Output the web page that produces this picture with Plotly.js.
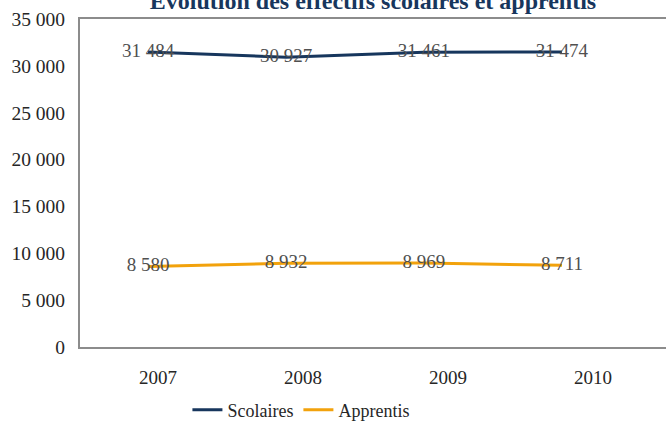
<!DOCTYPE html>
<html>
<head>
<meta charset="utf-8">
<script src="https://cdn.plot.ly/plotly-3.0.1.min.js"></script>
<style>html,body{margin:0;padding:0;background:#fff;}#chart{width:666px;height:422px;}</style>
</head>
<body>
<div id="chart"></div>
<script>
const years = ["2007", "2008", "2009", "2010"];
const scolaires = [31484, 30927, 31461, 31474];
const apprentis = [8580, 8932, 8969, 8711];
const yTicks = [0, 5000, 10000, 15000, 20000, 25000, 30000, 35000];

const idx = years.map((_, i) => i);
const serif = "Liberation Serif";

const traces = [
  {
    x: idx, y: scolaires, name: "Scolaires", type: "scatter", mode: "lines+text",
    line: {color: "#17365D", width: 3},
    texttemplate: "%{y:,d}", textposition: "middle center",
    textfont: {family: serif, size: 19, color: "#505050"},
    hoverinfo: "skip", cliponaxis: false
  },
  {
    x: idx, y: apprentis, name: "Apprentis", type: "scatter", mode: "lines+text",
    line: {color: "#F2A20C", width: 3},
    texttemplate: "%{y:,d}", textposition: "middle center",
    textfont: {family: serif, size: 19, color: "#505050"},
    hoverinfo: "skip", cliponaxis: false
  },
  {x: idx, y: [null, null, null, null], xaxis: "x2", type: "scatter", mode: "lines", showlegend: false, hoverinfo: "skip"}
];

const layout = {
  width: 666, height: 422,
  margin: {l: 80, r: 0, t: 19, b: 75, autoexpand: false},
  paper_bgcolor: "#fff", plot_bgcolor: "#fff",
  separators: ", ",
  font: {family: serif, size: 19, color: "#262626"},
  title: {
    text: "Évolution des effectifs scolaires et apprentis",
    font: {family: serif, size: 24, color: "#17365D", weight: "bold"},
    x: 0.5, xanchor: "center", xref: "paper",
    y: 0.978, yanchor: "bottom", yref: "container"
  },
  xaxis: {
    type: "linear", range: [-0.493, 3.754], automargin: false,
    showticklabels: false, ticks: "", showgrid: false, zeroline: false,
    showline: true, mirror: true, linecolor: "#8C8C8C", linewidth: 2
  },
  xaxis2: {
    type: "linear", range: [-0.538, 3.503], overlaying: "x", side: "bottom", automargin: false,
    tickvals: idx, ticktext: years, ticks: "", showgrid: false, zeroline: false,
    showline: false, ticklabelstandoff: 17,
    tickfont: {family: serif, size: 19, color: "#262626"}
  },
  yaxis: {
    range: [0, 35000], tickvals: yTicks, tickformat: ",d", automargin: false,
    showgrid: false, zeroline: false, ticks: "",
    showline: true, mirror: true, linecolor: "#8C8C8C", linewidth: 2,
    ticklabelstandoff: 9,
    tickfont: {family: serif, size: 19.5, color: "#262626"}
  },
  showlegend: true,
  legend: {
    orientation: "h", x: 0.377, xanchor: "center", y: -0.192, yanchor: "middle",
    font: {family: serif, size: 18, color: "#262626"},
    itemwidth: 30, tracegroupgap: 0, bgcolor: "rgba(0,0,0,0)"
  }
};

Plotly.newPlot("chart", traces, layout, {staticPlot: true, displayModeBar: false});
</script>
</body>
</html>
